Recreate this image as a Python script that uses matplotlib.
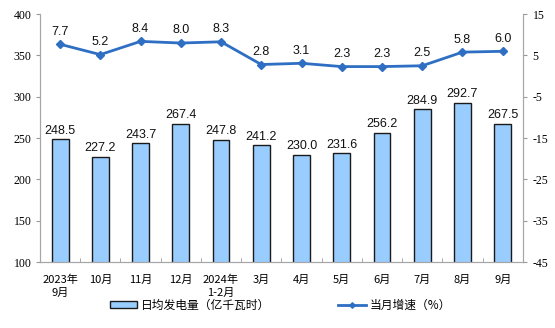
import matplotlib
matplotlib.use("Agg")
import matplotlib.pyplot as plt
import numpy as np

categories = ["2023年\n9月", "10月", "11月", "12月", "2024年\n1-2月", "3月",
              "4月", "5月", "6月", "7月", "8月", "9月"]
daily_output = [248.5, 227.2, 243.7, 267.4, 247.8, 241.2,
                230.0, 231.6, 256.2, 284.9, 292.7, 267.5]
monthly_growth = [7.7, 5.2, 8.4, 8.0, 8.3, 2.8, 3.1, 2.3, 2.3, 2.5, 5.8, 6.0]
left_ticks = [100, 150, 200, 250, 300, 350, 400]
right_ticks = [-45, -35, -25, -15, -5, 5, 15]

cjk = ["Noto Sans CJK SC", "DejaVu Sans"]
plt.rcParams["font.family"] = cjk

fig = plt.figure(figsize=(5.55, 3.28), dpi=100)
ax = fig.add_axes([0.072, 0.201, 0.870, 0.756])
ax2 = ax.twinx()

x = np.arange(len(categories))
bars = ax.bar(x, daily_output, width=0.42, color="#99CCFF", edgecolor="#1a1a1a",
              linewidth=1.0, zorder=2, label="日均发电量（亿千瓦时）")
for xi, v in zip(x, daily_output):
    ax.text(xi, v + 3, f"{v:.1f}", ha="center", va="bottom", fontsize=9,
            family="Liberation Sans", color="#111111")

ax.set_xlim(-0.5, len(categories) - 0.5)
ax.set_ylim(100, 400)
ax.set_yticks(left_ticks)
ax.set_yticklabels([str(t) for t in left_ticks], family="Liberation Serif", fontsize=8.5)
ax.set_xticks(x)
ax.set_xticklabels(categories, fontsize=8, linespacing=1.35)
ax.set_xticks(np.arange(-0.5, len(categories), 1.0), minor=True)
ax.tick_params(axis="x", which="major", length=0, pad=9)
ax.tick_params(axis="x", which="minor", length=3, direction="in", color="#999999")
ax.tick_params(axis="y", length=3, color="#999999", pad=3)

line, = ax2.plot(x, monthly_growth, color="#2E6FC4", linewidth=2.0, marker="D",
                 markersize=4, zorder=3, label="当月增速（%）")
for xi, v in zip(x, monthly_growth):
    ax2.text(xi, v + 1.6, f"{v:.1f}", ha="center", va="bottom", fontsize=9,
             family="Liberation Sans", color="#111111")
ax2.set_ylim(-45, 15)
ax2.set_yticks(right_ticks)
ax2.set_yticklabels([str(t) for t in right_ticks], family="Liberation Serif", fontsize=8.5)
ax2.tick_params(axis="y", length=3, color="#999999", pad=4)

for a in (ax, ax2):
    a.spines["top"].set_visible(False)
    for side in ("left", "right", "bottom"):
        a.spines[side].set_color("#A6A6A6")
        a.spines[side].set_linewidth(0.8)

leg = fig.legend(handles=[bars, line], loc="center", bbox_to_anchor=(0.505, 0.07),
                 ncol=2, frameon=False, fontsize=8.5, columnspacing=5.8,
                 handlelength=2.3, handleheight=0.5, handletextpad=0.3,
                 markerscale=0.7)

fig.savefig("out.png", dpi=100)
